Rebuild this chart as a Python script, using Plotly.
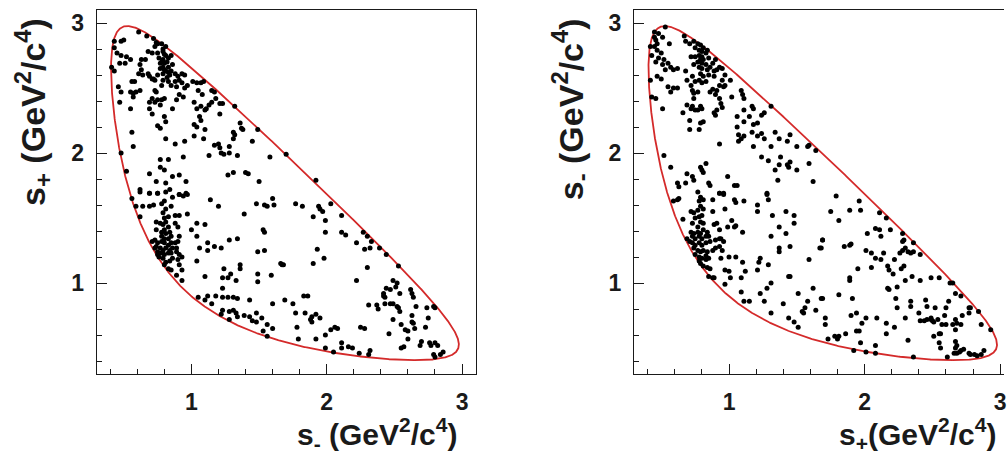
import numpy as np
import plotly.graph_objects as go

# particle masses (GeV/c^2) used for the kinematic (Dalitz) boundary
M_D = 1.86484
M_KS = 0.497611
M_PI = 0.13957

# ---------------- left panel: x = s-, y = s+ ----------------
left_upper = [
    (0.61,2.93),(0.67,2.90),(0.72,2.88),(0.74,2.85),(0.75,2.84),(0.78,2.84),(0.73,2.82),
    (0.43,2.86),(0.48,2.86),(0.50,2.87),(0.43,2.81),(0.45,2.77),(0.48,2.75),(0.52,2.74),
    (0.55,2.72),(0.51,2.69),(0.47,2.69),(0.43,2.63),(0.41,2.66),(0.68,2.78),(0.71,2.77),
    (0.75,2.77),(0.79,2.78),(0.81,2.75),(0.85,2.75),(0.83,2.73),(0.79,2.72),(0.77,2.69),
    (0.80,2.69),(0.83,2.66),(0.86,2.68),(0.63,2.72),(0.66,2.72),(0.62,2.68),(0.63,2.64),
    (0.61,2.61),(0.64,2.60),(0.69,2.59),(0.72,2.57),(0.75,2.60),(0.79,2.61),(0.81,2.63),
    (0.84,2.60),(0.88,2.61),(0.90,2.59),(0.93,2.61),(0.95,2.60),(0.91,2.56),(0.88,2.55),
    (0.83,2.55),(0.79,2.56),(0.78,2.52),(0.56,2.55),(0.58,2.55),(0.55,2.47),(0.57,2.46),
    (0.59,2.47),(0.62,2.48),(0.46,2.51),(0.48,2.47),(0.47,2.39),(0.55,2.34),(0.57,2.43),
    (0.68,2.61),(0.71,2.57),(0.73,2.56),(0.73,2.48),(0.74,2.47),(0.71,2.42),(0.69,2.39),
    (0.73,2.39),(0.75,2.41),(0.78,2.41),(0.69,2.34),(0.71,2.30),(0.77,2.37),(0.80,2.42),
    (0.85,2.52),(0.89,2.51),(0.93,2.54),(0.95,2.50),(0.97,2.52),(0.94,2.43),(0.91,2.45),
    (0.89,2.41),(0.86,2.34),(0.80,2.28),(0.81,2.24),(0.75,2.21),(0.77,2.19),
    (0.79,2.80),(0.81,2.82),(0.80,2.76),(0.78,2.70),(0.82,2.70),(0.80,2.64),(0.83,2.62),
    (0.77,2.65),(0.82,2.58),(0.85,2.63),(0.79,2.66),(0.76,2.73),
]
left_middle = [
    (1.01,2.55),(1.04,2.54),(1.07,2.54),(1.09,2.55),(1.05,2.48),(1.02,2.39),(1.04,2.34),
    (1.07,2.36),(1.10,2.33),(1.11,2.34),(1.08,2.45),(1.06,2.28),(1.07,2.25),(1.15,2.48),
    (1.17,2.47),(1.18,2.42),(1.21,2.38),(1.23,2.38),(1.21,2.30),(1.15,2.39),(1.13,2.37),
    (1.32,2.36),(1.02,2.22),(1.04,2.20),(1.10,2.18),(1.02,2.13),(1.09,2.11),(1.36,2.23),
    (1.37,2.19),(1.38,2.18),(1.31,2.16),(1.32,2.14),(1.31,2.11),(1.45,2.09),(1.49,2.18),
    (1.20,2.07),(1.21,2.04),(1.22,2.00),(1.24,1.99),(1.28,2.00),(1.28,2.05),(1.34,1.98),
    (1.17,2.06),(1.13,1.98),(0.56,2.16),(0.57,2.05),(0.48,2.00),(0.52,1.86),(0.81,2.11),
    (0.88,2.07),(0.95,2.09),(0.77,1.95),(0.83,1.95),(0.94,1.97),(0.77,1.89),(0.80,1.87),
    (0.69,1.84),(0.86,1.82),(0.91,1.83),(0.96,1.78),(0.74,1.78),(0.81,1.77),(0.62,1.72),
    (0.69,1.69),(0.75,1.69),(0.84,1.72),(0.91,1.68),(0.96,1.69),(1.27,1.83),(1.31,1.85),
    (1.40,1.85),(1.42,1.84),(1.50,1.78),(1.58,1.97),(1.92,1.79),(1.70,1.99),
]
left_band = [
    (0.56,1.65),(0.62,1.70),(0.69,1.69),(0.75,1.69),(0.81,1.70),(0.86,1.66),(0.91,1.68),
    (0.97,1.68),(0.94,1.67),(0.59,1.59),(0.64,1.59),(0.69,1.59),(0.72,1.60),(0.78,1.61),
    (0.80,1.63),(0.81,1.57),(0.85,1.59),(0.88,1.52),(0.91,1.52),(0.97,1.53),(0.62,1.51),
    (0.79,1.54),(0.80,1.50),(0.83,1.51),(0.74,1.47),(0.77,1.46),(0.79,1.45),(0.81,1.47),
    (0.83,1.43),(0.80,1.41),(0.78,1.39),(0.81,1.38),(0.84,1.39),(0.88,1.46),(0.90,1.43),
    (0.74,1.41),(0.78,1.36),(0.80,1.34),(0.83,1.34),(0.85,1.36),(0.71,1.32),(0.73,1.33),
    (0.75,1.31),(0.78,1.32),(0.80,1.31),(0.83,1.29),(0.85,1.31),(0.88,1.31),(0.90,1.32),
    (0.91,1.36),(0.74,1.28),(0.77,1.27),(0.79,1.25),(0.81,1.27),(0.84,1.25),(0.86,1.27),
    (0.89,1.27),(0.75,1.24),(0.78,1.23),(0.80,1.22),(0.83,1.23),(0.85,1.23),(0.89,1.24),
    (0.91,1.22),(0.93,1.20),(0.76,1.20),(0.79,1.19),(0.81,1.16),(0.84,1.17),(0.86,1.19),
    (0.90,1.18),(0.91,1.14),(0.93,1.10),(0.89,1.06),(0.93,1.02),(0.83,1.11),(0.85,1.10),
    (0.80,1.14),(0.75,1.22),(0.73,1.27),
]
left_lower = [
    (1.00,1.41),(1.04,1.36),(1.04,1.46),(1.10,1.45),(1.14,1.64),(1.20,1.59),(1.12,1.31),
    (1.17,1.28),(1.22,1.27),(1.06,1.27),(1.12,1.25),(1.04,1.17),(1.28,1.33),(1.34,1.34),
    (1.39,1.53),(1.48,1.61),(1.54,1.60),(1.56,1.59),(1.60,1.65),(1.61,1.60),(1.54,1.39),
    (1.53,1.41),(1.49,1.24),(1.54,1.25),(1.66,1.15),(1.67,1.14),(1.36,1.14),(1.36,1.11),
    (1.24,1.11),(1.29,1.07),(1.23,1.04),(1.27,1.04),(1.33,1.02),(1.49,1.07),(1.49,1.01),
    (1.59,1.06),(1.10,1.05),(1.23,0.96),(1.05,0.89),(1.10,0.87),(1.12,0.90),(1.15,0.84),
    (1.18,0.90),(1.23,0.89),(1.27,0.89),(1.31,0.89),(1.34,0.88),(1.43,0.87),(1.60,0.84),
    (1.69,0.87),(1.23,0.79),(1.22,0.76),(1.28,0.78),(1.31,0.79),(1.33,0.77),(1.34,0.74),
    (1.28,0.72),(1.39,0.75),(1.43,0.74),(1.48,0.77),(1.45,0.71),(1.48,0.70),(1.52,0.73),
    (1.56,0.68),(1.60,0.65),(1.53,0.63),(1.56,0.59),
]
left_right = [
    (1.77,1.61),(1.82,1.59),(1.90,1.51),(1.94,1.59),(1.95,1.57),(1.97,1.55),(1.99,1.48),
    (2.03,1.61),(1.99,1.39),(2.11,1.52),(2.11,1.39),(2.14,1.37),(2.22,1.31),(2.27,1.39),
    (2.30,1.36),(2.33,1.32),(2.28,1.26),(2.32,1.27),(1.93,1.26),(1.90,1.15),(1.98,1.19),
    (2.30,1.12),(2.22,1.02),(2.39,1.27),(2.44,1.22),(2.53,1.13),(2.49,1.02),(2.52,1.00),
    (2.44,0.96),(2.47,0.95),(2.42,0.92),(2.42,0.90),(2.43,0.89),(2.51,0.97),(2.54,0.92),
    (2.62,0.95),(2.63,0.92),(2.64,0.89),(1.83,0.90),(1.86,0.90),(1.75,0.84),(1.77,0.77),
    (1.84,0.77),(1.89,0.74),(1.92,0.76),(1.88,0.72),(1.89,0.70),(1.95,0.73),(1.78,0.66),
    (1.79,0.57),(1.92,0.57),(1.99,0.60),(2.03,0.64),(2.06,0.66),(2.08,0.65),(2.25,0.66),
    (2.28,0.65),(1.99,0.50),(2.05,0.47),(2.11,0.54),(2.11,0.50),(2.16,0.51),(2.19,0.50),
    (2.24,0.46),(2.32,0.48),(2.31,0.45),(2.31,0.83),(2.37,0.83),(2.38,0.80),(2.43,0.84),
    (2.47,0.84),(2.49,0.84),(2.52,0.82),(2.53,0.81),(2.54,0.78),(2.49,0.72),(2.55,0.68),
    (2.58,0.64),(2.60,0.63),(2.63,0.70),(2.63,0.75),(2.64,0.69),(2.65,0.65),(2.60,0.57),
    (2.66,0.82),(2.74,0.81),(2.79,0.82),(2.80,0.81),(2.75,0.73),(2.73,0.66),(2.70,0.55),
    (2.69,0.52),(2.57,0.51),(2.55,0.50),(2.76,0.54),(2.77,0.52),(2.80,0.54),(2.82,0.52),
    (2.79,0.45),(2.80,0.43),(2.84,0.45),(2.86,0.47),(2.46,0.61),(1.68,1.14),
]

# ---------------- right panel: x = s+, y = s- ----------------
right_upper = [
    (0.53,2.97),(0.45,2.93),(0.48,2.92),(0.45,2.89),(0.46,2.87),(0.51,2.89),(0.56,2.84),
    (0.47,2.84),(0.42,2.82),(0.45,2.82),(0.47,2.79),(0.50,2.77),(0.43,2.75),(0.48,2.73),
    (0.52,2.72),(0.55,2.69),(0.51,2.68),(0.57,2.66),(0.59,2.64),(0.62,2.65),(0.46,2.70),
    (0.53,2.64),(0.42,2.56),(0.47,2.59),(0.50,2.57),(0.55,2.51),(0.59,2.50),(0.62,2.50),
    (0.57,2.47),(0.43,2.43),(0.46,2.42),(0.51,2.34),(0.52,1.98),(0.57,1.89),(0.67,2.90),
    (0.68,2.86),(0.71,2.84),(0.74,2.86),(0.77,2.84),(0.79,2.83),(0.81,2.81),(0.84,2.79),
    (0.75,2.81),(0.78,2.79),(0.80,2.78),(0.83,2.77),(0.78,2.75),(0.80,2.74),(0.75,2.74),
    (0.79,2.72),(0.81,2.72),(0.77,2.70),(0.80,2.69),(0.83,2.68),(0.78,2.66),(0.80,2.65),
    (0.84,2.64),(0.88,2.69),(0.90,2.72),(0.85,2.73),(0.86,2.66),(0.89,2.63),(0.91,2.64),
    (0.93,2.66),(0.95,2.65),(0.79,2.61),(0.81,2.59),(0.78,2.56),(0.83,2.55),(0.80,2.54),
    (0.75,2.55),(0.73,2.59),(0.68,2.63),(0.72,2.74),(0.74,2.68),(0.85,2.60),(0.89,2.59),
    (0.95,2.56),(0.97,2.60),(1.01,2.56),(0.93,2.52),(0.96,2.51),(0.91,2.48),(0.90,2.45),
    (0.93,2.42),(0.94,2.38),(0.95,2.35),(0.97,2.52),(0.69,2.56),(0.72,2.52),(0.73,2.48),
    (0.74,2.46),(0.77,2.47),(0.74,2.42),(0.69,2.37),(0.72,2.34),(0.73,2.36),(0.77,2.33),
    (0.79,2.36),(0.80,2.34),(0.75,2.33),(0.66,2.31),(0.71,2.25),(0.79,2.23),(0.81,2.24),
    (0.78,2.18),(0.71,2.18),(0.89,2.31),(0.91,2.33),(0.90,2.29),(0.86,2.47),(0.88,2.49),
]
right_middle = [
    (1.09,2.48),(1.10,2.45),(1.11,2.42),(1.02,2.43),(1.17,2.36),(1.18,2.34),(1.11,2.33),
    (1.06,2.28),(1.11,2.24),(1.15,2.28),(1.21,2.23),(1.24,2.29),(1.26,2.31),(1.31,2.36),
    (1.18,2.22),(1.17,2.16),(1.06,2.20),(1.07,2.14),(1.09,2.11),(1.11,2.13),(1.07,2.09),
    (1.21,2.13),(1.24,2.15),(1.26,2.11),(1.34,2.16),(1.37,2.11),(1.45,2.14),(1.50,2.05),
    (1.43,2.09),(1.31,2.05),(1.18,2.05),(1.24,1.97),(1.29,1.94),(1.37,1.91),(1.43,1.91),
    (1.44,1.89),(1.45,1.93),(1.50,1.87),(1.59,1.92),(1.59,2.06),(1.58,2.05),(1.64,2.02),
    (1.62,1.78),(1.38,1.97),(0.93,2.07),(0.62,1.77),(0.63,1.74),(0.68,1.77),(0.69,1.84),
    (0.73,1.82),(0.74,1.79),(0.79,1.89),(0.83,1.92),(0.80,1.87),(0.81,1.85),(0.85,1.77),
    (0.86,1.75),(0.99,1.82),(1.04,1.75),(1.06,1.75),(0.93,1.69),(0.96,1.69),(1.28,1.69),
    (1.34,1.87),(1.36,1.79),
]
right_band = [
    (0.59,1.63),(0.62,1.64),(0.63,1.65),(0.77,1.70),(0.79,1.66),(0.78,1.63),(0.81,1.64),
    (0.88,1.64),(0.93,1.69),(0.96,1.68),(0.66,1.49),(0.72,1.55),(0.74,1.54),(0.77,1.56),
    (0.79,1.59),(0.81,1.57),(0.80,1.52),(0.78,1.51),(0.75,1.50),(0.79,1.47),(0.81,1.46),
    (0.73,1.46),(0.77,1.43),(0.88,1.55),(0.89,1.45),(0.91,1.46),(0.93,1.41),(0.97,1.57),
    (0.99,1.43),(0.72,1.39),(0.74,1.38),(0.77,1.39),(0.79,1.38),(0.81,1.41),(0.84,1.39),
    (0.73,1.36),(0.75,1.34),(0.78,1.36),(0.80,1.34),(0.83,1.36),(0.85,1.36),(0.69,1.34),
    (0.71,1.32),(0.73,1.31),(0.75,1.29),(0.78,1.31),(0.80,1.29),(0.83,1.31),(0.86,1.32),
    (0.90,1.33),(0.93,1.34),(0.94,1.34),(0.96,1.32),(0.74,1.27),(0.77,1.25),(0.79,1.24),
    (0.81,1.25),(0.84,1.24),(0.88,1.25),(0.90,1.27),(0.93,1.28),(0.95,1.25),(0.75,1.22),
    (0.78,1.20),(0.80,1.19),(0.83,1.21),(0.85,1.19),(0.78,1.17),(0.79,1.15),(0.81,1.13),
    (0.84,1.12),(0.86,1.11),(0.83,1.18),(0.88,1.04),(0.89,1.04),(0.85,1.05),(0.94,1.19),
    (0.97,1.10),(1.00,1.09),(1.01,1.04),(0.97,0.99),
]
right_lower = [
    (1.04,1.64),(1.05,1.62),(1.11,1.63),(1.21,1.60),(1.21,1.55),(1.28,1.68),(1.29,1.64),
    (1.32,1.52),(1.42,1.55),(1.48,1.52),(1.48,1.46),(1.37,1.43),(1.42,1.38),(1.45,1.28),
    (1.37,1.27),(1.37,1.24),(1.31,1.36),(1.67,1.27),(1.69,1.33),(1.59,1.18),(1.02,1.48),
    (1.04,1.43),(1.05,1.44),(1.10,1.39),(1.00,1.20),(1.05,1.20),(1.10,1.16),(1.12,1.09),
    (1.09,1.04),(1.23,1.19),(1.22,1.16),(1.21,1.10),(1.29,1.14),(1.31,1.00),(1.28,0.96),
    (1.23,0.92),(1.09,0.93),(1.11,0.86),(1.15,0.86),(1.26,0.86),(1.40,0.84),(1.44,1.05),
    (1.45,1.05),(1.51,0.92),(1.58,0.86),(1.56,0.81),(1.54,0.78),(1.55,0.77),(1.64,0.79),
    (1.62,0.96),(1.69,0.88),(1.31,0.77),(1.44,0.73),(1.48,0.70),(1.51,0.66),
]
right_right = [
    (1.79,1.67),(1.75,1.55),(1.81,1.48),(1.89,1.56),(1.96,1.63),(1.97,1.56),(2.11,1.54),
    (2.16,1.50),(2.02,1.38),(2.08,1.42),(2.11,1.41),(2.12,1.36),(2.19,1.41),(2.28,1.38),
    (2.28,1.32),(2.29,1.33),(2.36,1.31),(1.69,1.33),(1.68,1.27),(1.85,1.28),(1.89,1.29),
    (1.90,1.30),(2.01,1.25),(2.05,1.23),(2.14,1.23),(2.08,1.19),(2.12,1.18),(2.17,1.13),
    (2.18,1.10),(2.22,1.18),(2.26,1.23),(2.28,1.25),(2.30,1.27),(2.32,1.24),(2.34,1.23),
    (2.36,1.24),(2.41,1.22),(1.95,1.11),(2.05,1.12),(2.21,1.07),(2.27,1.11),(2.29,1.13),
    (2.30,1.02),(2.35,1.05),(2.41,1.02),(2.49,1.04),(2.55,1.04),(1.89,1.02),(1.89,1.04),
    (2.17,0.96),(2.18,0.95),(2.24,0.97),(2.23,0.88),(2.24,0.81),(1.68,0.88),(1.81,0.91),
    (1.91,0.88),(1.90,0.75),(1.94,0.77),(1.98,0.69),(2.01,0.73),(2.09,0.73),(2.16,0.69),
    (2.22,0.66),(1.71,0.73),(1.71,0.68),(1.73,0.57),(1.78,0.59),(1.80,0.57),(1.81,0.59),
    (1.86,0.61),(1.94,0.63),(1.96,0.63),(1.97,0.54),(2.01,0.47),(1.92,0.48),(2.08,0.46),
    (2.08,0.52),(2.16,0.61),(2.32,0.56),(2.36,0.43),(2.30,0.73),(2.34,0.86),(2.34,0.82),
    (2.40,0.77),(2.45,0.87),(2.46,0.82),(2.52,0.81),(2.60,0.81),(2.59,0.75),(2.62,0.86),
    (2.41,0.71),(2.44,0.71),(2.46,0.72),(2.49,0.72),(2.50,0.71),(2.51,0.70),(2.49,0.73),
    (2.54,0.72),(2.57,0.68),(2.56,0.61),(2.55,0.61),(2.51,0.59),(2.55,0.54),(2.56,0.50),
    (2.60,0.68),(2.65,0.68),(2.67,0.72),(2.68,0.69),(2.71,0.68),(2.67,0.64),(2.67,0.55),
    (2.68,0.52),(2.67,0.50),(2.66,0.46),(2.68,0.46),(2.70,0.47),(2.71,0.48),(2.73,0.49),
    (2.77,0.46),(2.78,0.45),(2.81,0.45),(2.83,0.44),(2.86,0.45),(2.88,0.48),(2.61,0.43),
    (2.63,1.00),(2.65,1.00),(2.67,0.92),(2.71,0.90),(2.77,0.81),(2.78,0.81),(2.77,0.77),
    (2.72,0.75),(2.84,0.78),(2.86,0.68),(2.93,0.64),
]

AXIS_RANGE = [0.3, 3.1]
TICK_LABELS = ["1", "2", "3"]
TICK_VALUES = [1, 2, 3]


def dalitz_boundary(n=600):
    smin = (M_KS + M_PI) ** 2
    smax = (M_D - M_PI) ** 2
    t = np.linspace(0.0, np.pi, n)
    s = smin + (smax - smin) * (1 - np.cos(t)) / 2
    rs = np.sqrt(s)
    e2 = (s - M_PI ** 2 + M_KS ** 2) / (2 * rs)
    e3 = (M_D ** 2 - s - M_PI ** 2) / (2 * rs)
    p2 = np.sqrt(np.clip(e2 ** 2 - M_KS ** 2, 0, None))
    p3 = np.sqrt(np.clip(e3 ** 2 - M_PI ** 2, 0, None))
    lo = (e2 + e3) ** 2 - (p2 + p3) ** 2
    hi = (e2 + e3) ** 2 - (p2 - p3) ** 2
    return np.concatenate([s, s[::-1]]), np.concatenate([lo, hi[::-1]])


def unzip(*groups):
    pts = [p for g in groups for p in g]
    return [p[0] for p in pts], [p[1] for p in pts]


bx, by = dalitz_boundary()
lx, ly = unzip(left_upper, left_middle, left_band, left_lower, left_right)
rx, ry = unzip(right_upper, right_middle, right_band, right_lower, right_right)

RED = "#d42a2a"
INK = "#1a1a1a"
FONT = "Liberation Sans, Arial, sans-serif"

fig = go.Figure()
fig.add_trace(go.Scatter(x=bx, y=by, mode="lines", line=dict(color=RED, width=1.8),
                         xaxis="x", yaxis="y", hoverinfo="skip"))
fig.add_trace(go.Scatter(x=lx, y=ly, mode="markers",
                         marker=dict(color="black", size=5), xaxis="x", yaxis="y"))
fig.add_trace(go.Scatter(x=by, y=bx, mode="lines", line=dict(color=RED, width=1.8),
                         xaxis="x2", yaxis="y2", hoverinfo="skip"))
fig.add_trace(go.Scatter(x=rx, y=ry, mode="markers",
                         marker=dict(color="black", size=5), xaxis="x2", yaxis="y2"))

W, H = 1007, 454


def axis(**kw):
    d = dict(
        showgrid=False, zeroline=False, showline=True, linecolor=INK, linewidth=1.3,
        ticks="inside", ticklen=10, tickwidth=1.3, tickcolor=INK,
        tickvals=TICK_VALUES, ticktext=TICK_LABELS,
        minor=dict(ticks="inside", ticklen=5, tickwidth=1, tickcolor=INK, dtick=0.2, tick0=0),
        tickfont=dict(family=FONT, size=23, color=INK, weight="bold"),
    )
    d.update(kw)
    return d


fig.update_layout(
    width=W, height=H, margin=dict(l=0, r=0, t=0, b=0),
    paper_bgcolor="white", plot_bgcolor="white", showlegend=False,
    xaxis=axis(domain=[97 / W, 477 / W], range=AXIS_RANGE, anchor="y", mirror=True,
               ticklabelstandoff=7),
    yaxis=axis(domain=[(H - 374) / H, (H - 10) / H], range=AXIS_RANGE, anchor="x", mirror=True,
               ticklabelstandoff=7),
    xaxis2=axis(domain=[636 / W, 1.0], range=[0.3, 0.3 + (W - 636) / 136.0], anchor="y2",
                mirror=True, ticklabelstandoff=7, ticklabeloverflow="allow"),
    yaxis2=axis(domain=[(H - 374) / H, (H - 10) / H], range=AXIS_RANGE, anchor="x2",
                ticklabelstandoff=7),
)

xtitle_font = dict(family=FONT, size=30, color=INK, weight="bold")
ytitle_font = dict(family=FONT, size=34, color=INK, weight="bold")
annotations = [
    dict(text="s<sub>-</sub> (GeV<sup>2</sup>/c<sup>4</sup>)", x=460 / W, y=-0.006,
         xanchor="right", yanchor="bottom", font=xtitle_font),
    dict(text="s<sub>+</sub>(GeV<sup>2</sup>/c<sup>4</sup>)", x=1001 / W, y=-0.006,
         xanchor="right", yanchor="bottom", font=xtitle_font),
    dict(text="s<sub>+</sub> (GeV<sup>2</sup>/c<sup>4</sup>)", x=33 / W, y=(H - 16) / H,
         xanchor="center", yanchor="top", textangle=-90, font=ytitle_font),
    dict(text="s<sub>-</sub> (GeV<sup>2</sup>/c<sup>4</sup>)", x=572 / W, y=(H - 16) / H,
         xanchor="center", yanchor="top", textangle=-90, font=ytitle_font),
]
for a in annotations:
    fig.add_annotation(xref="paper", yref="paper", showarrow=False, **a)

fig.write_html("out.html")
